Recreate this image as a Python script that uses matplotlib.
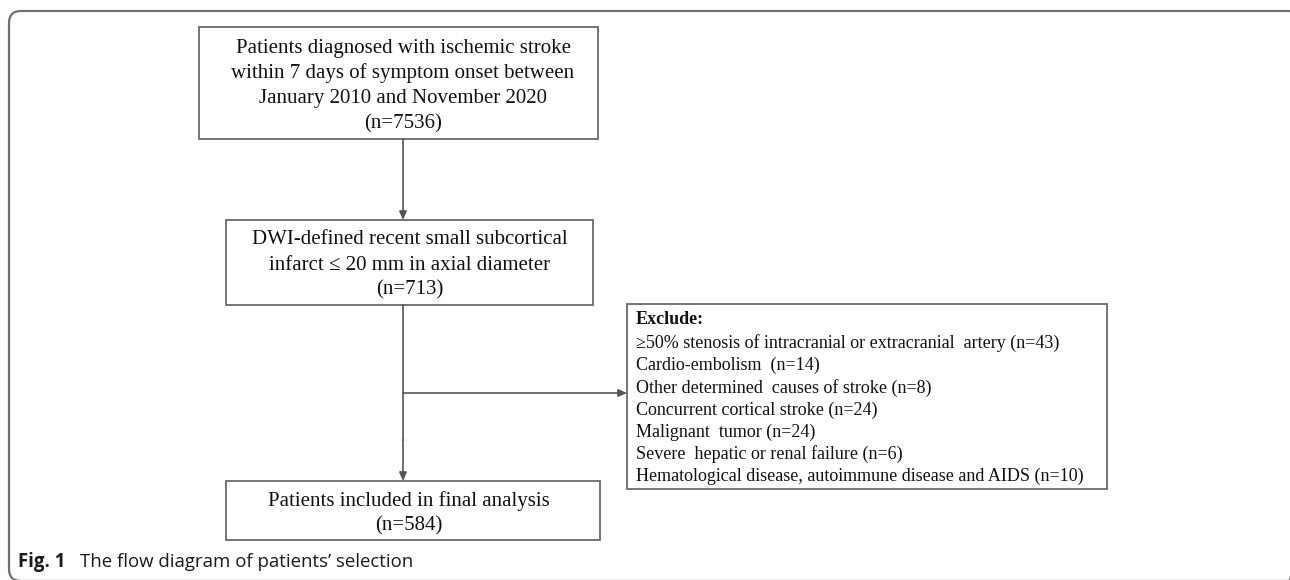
import matplotlib.pyplot as plt
from matplotlib.patches import FancyBboxPatch, Rectangle

# flow chart content
total_lines = ['Patients diagnosed with ischemic stroke',
               'within 7 days of symptom onset between',
               'January 2010 and November 2020']
n_total = 7536
rssi_lines = ['DWI-defined recent small subcortical',
              'infarct \u2264 20 mm in axial diameter']
n_rssi = 713
final_lines = ['Patients included in final analysis']
n_final = 584

exclude_reasons = ['\u226550% stenosis of intracranial or extracranial  artery',
                   'Cardio-embolism ',
                   'Other determined  causes of stroke',
                   'Concurrent cortical stroke',
                   'Malignant  tumor',
                   'Severe  hepatic or renal failure',
                   'Hematological disease, autoimmune disease and AIDS']
exclude_n = [43, 14, 8, 24, 24, 6, 10]

caption_bold = 'Fig. 1'
caption_text = 'The flow diagram of patients\u2019 selection'

serif = 'Liberation Serif'
edge = '#6a6a6a'
line_c = '#555555'

fig = plt.figure(figsize=(12.9, 5.8), dpi=100)
ax = fig.add_axes([0, 0, 1, 1])
ax.set_xlim(0, 1290)
ax.set_ylim(580, 0)
ax.axis('off')

# outer frame, right and bottom sides run just past the picture
ax.add_patch(FancyBboxPatch((9, 11), 1292, 570, boxstyle='round,pad=0,rounding_size=12',
                            fill=False, ec='#707070', lw=1.6))


def box(x0, y0, x1, y1):
    ax.add_patch(Rectangle((x0, y0), x1 - x0, y1 - y0, fill=False, ec=edge, lw=1.3))


def centered(lines, cx, ys, size=15):
    for t, y in zip(lines, ys):
        ax.text(cx, y, t, ha='center', va='center', family=serif, fontsize=size, color='#111111')


def arrow(x0, y0, x1, y1):
    ax.annotate('', xy=(x1, y1), xytext=(x0, y0),
                arrowprops=dict(arrowstyle='-|>,head_length=0.5,head_width=0.22',
                                color=line_c, lw=1.2, shrinkA=0, shrinkB=0))


# box 1
box(199, 27, 598, 139)
centered(total_lines + ['(n=%d)' % n_total], 403, [48, 73, 98, 124])

# box 2
box(226, 220, 593, 305)
centered(rssi_lines + ['(n=%d)' % n_rssi], 410, [239, 265, 290])

# box 3
box(226, 481, 600, 540)
centered(final_lines + ['(n=%d)' % n_final], 409, [501, 526])

# exclusion box
box(627, 304, 1107, 489)
ax.text(636, 320, 'Exclude:', ha='left', va='center', family=serif, fontsize=13,
        weight='bold', color='#111111')
for i, (r, n) in enumerate(zip(exclude_reasons, exclude_n)):
    ax.text(636, 343 + i * 22.3, '%s (n=%d)' % (r, n), ha='left', va='center',
            family=serif, fontsize=13, color='#111111')

# connectors
arrow(403, 139, 403, 220)
ax.plot([403, 403], [305, 440], color=line_c, lw=1.2)
arrow(403, 440, 403, 481)
arrow(403, 393, 627, 393)

# caption
ax.text(18, 562, caption_bold, ha='left', va='center', family='Open Sans',
        fontsize=13.4, weight='bold', color='#1a1a1a')
ax.text(80, 562, caption_text, ha='left', va='center', family='Open Sans',
        fontsize=13.4, color='#1a1a1a')

plt.savefig('out.png')
